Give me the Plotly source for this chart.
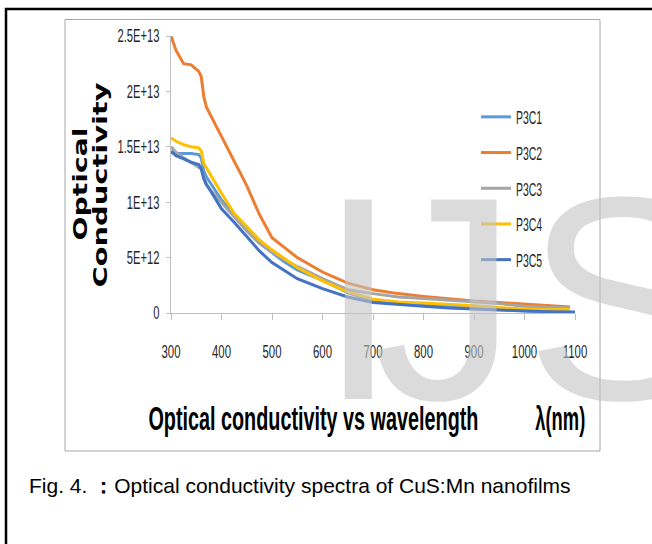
import plotly.graph_objects as go

# ---------------- data (values in units of 1e12 S^-1) ----------------
wavelength = [300, 310, 325, 340, 355, 360, 365, 370, 380, 400, 425, 450, 475, 500,
              525, 550, 600, 650, 700, 750, 800, 850, 900, 950, 1000, 1050, 1090, 1100]

p3c1 = [14.5, 14.4, 14.4, 14.4, 14.3, 14.0, 12.8, 12.3, 11.6, 10.2, 8.8, 7.5, 6.3, 5.45,
        4.6, 3.9, 2.95, 1.85, 1.1, 0.9, 0.75, 0.6, 0.45, 0.3, 0.2, 0.12, 0.08, 0.05]
p3c2 = [25.0, 23.7, 22.5, 22.4, 21.8, 21.3, 19.5, 18.6, 17.7, 15.9, 13.6, 11.5, 8.9, 6.8,
        5.9, 5.0, 3.7, 2.7, 2.1, 1.75, 1.5, 1.3, 1.08, 0.95, 0.8, 0.65, 0.55, None]
p3c3 = [15.0, 14.5, 14.0, 13.6, 13.2, 13.0, 12.3, 11.6, 11.0, 10.0, 8.7, 7.4, 6.3, 5.5,
        4.8, 4.2, 3.1, 2.1, 1.75, 1.45, 1.3, 1.15, 1.0, 0.85, 0.6, 0.5, 0.45, None]
p3c4 = [15.8, 15.5, 15.2, 15.0, 14.9, 14.6, 13.5, 13.1, 12.4, 10.8, 9.0, 7.8, 6.6, 5.7,
        4.9, 4.1, 2.9, 1.9, 1.25, 1.0, 0.9, 0.8, 0.65, 0.5, 0.35, 0.3, 0.35, None]
p3c5 = [14.6, 14.2, 13.9, 13.6, 13.4, 13.0, 12.1, 11.6, 10.9, 9.4, 8.2, 6.9, 5.6, 4.55,
        3.8, 3.1, 2.2, 1.45, 0.95, 0.75, 0.6, 0.45, 0.35, 0.25, 0.18, 0.12, 0.1, 0.08]

series_names = ["P3C1", "P3C2", "P3C3", "P3C4", "P3C5"]
series_vals = [p3c1, p3c2, p3c3, p3c4, p3c5]
series_colors = ["#5B9BD5", "#ED7D31", "#A5A5A5", "#FFC000", "#4472C4"]

x_ticks = [300, 400, 500, 600, 700, 800, 900, 1000, 1100]
y_tickvals = [0, 5e12, 1e13, 1.5e13, 2e13, 2.5e13]
y_ticktext = ["0", "5E+12", "1E+13", "1.5E+13", "2E+13", "2.5E+13"]

# ---------------- layout geometry ----------------
W, H = 652, 544
L, R, T, B = 171, 77, 36, 231
PW, PH = W - L - R, H - T - B


def px(x):
    return (x - L) / PW


def py(y):
    return (H - B - y) / PH


SANS = "Liberation Sans, Arial, sans-serif"
WM = dict(family=SANS, size=290, color="rgba(195,195,195,0.6)")

fig = go.Figure()
for name, vals, col in zip(series_names, series_vals, series_colors):
    fig.add_trace(go.Scatter(
        x=wavelength,
        y=[None if v is None else v * 1e12 for v in vals],
        mode="lines", name=name, legendgroup=name,
        line=dict(color=col, width=3),
        connectgaps=False,
    ))

annotations = [
    # watermark letters (0,1,2)
    dict(text="I", x=px(316), y=py(462), xanchor="left", yanchor="bottom", font=WM),
    dict(text="J", x=px(371), y=py(462), xanchor="left", yanchor="bottom", font=WM),
    dict(text="S", x=px(523), y=py(462), xanchor="left", yanchor="bottom", font=WM),
    # y title (3,4)
    dict(text="Optical", x=px(80), y=py(184), xanchor="center", yanchor="middle", textangle=-90,
         font=dict(family="DejaVu Sans, Verdana", size=20, color="#000000", weight="bold")),
    dict(text="Conductivity", x=px(100), y=py(185), xanchor="center", yanchor="middle", textangle=-90,
         font=dict(family="DejaVu Sans, Verdana", size=20, color="#000000", weight="bold")),
    # bottom title (5,6)
    dict(text="Optical conductivity vs wavelength", x=px(313), y=py(418), xanchor="center",
         yanchor="middle", font=dict(family=SANS, size=34, color="#000000", weight="bold")),
    dict(text="λ(nm)", x=px(560), y=py(418), xanchor="center", yanchor="middle",
         font=dict(family=SANS, size=34, color="#000000", weight="bold")),
    # caption (7)
    dict(text="Fig. 4. <b>：</b>Optical conductivity spectra of CuS:Mn nanofilms",
         x=px(27), y=py(485), xanchor="left", yanchor="middle",
         font=dict(family=SANS, size=21, color="#000000")),
]
for a in annotations:
    a.update(xref="paper", yref="paper", showarrow=False)

shapes = [
    dict(type="rect", xref="paper", yref="paper", x0=px(6), x1=px(700), y0=py(9), y1=py(600),
         line=dict(color="#000000", width=2.5), layer="below"),
    dict(type="rect", xref="paper", yref="paper", x0=px(65), x1=px(600), y0=py(19.5), y1=py(451),
         line=dict(color="#a6a6a6", width=1), layer="below"),
]

fig.update_layout(
    width=W, height=H,
    margin=dict(l=L, r=R, t=T, b=B, pad=0),
    paper_bgcolor="white", plot_bgcolor="white",
    showlegend=True,
    legend=dict(x=px(476), y=py(98), xanchor="left", yanchor="top",
                font=dict(family=SANS, size=19, color="#262626"),
                tracegroupgap=8, bgcolor="rgba(0,0,0,0)"),
    annotations=annotations,
    shapes=shapes,
    xaxis=dict(range=[300, 1100], tickvals=x_ticks, ticktext=[str(v) for v in x_ticks],
               showgrid=False, zeroline=False, showline=True, linecolor="#bfbfbf", linewidth=1,
               ticks="outside", ticklen=6, tickcolor="#bfbfbf", ticklabelstandoff=15,
               tickfont=dict(family=SANS, size=19, color="#262626")),
    yaxis=dict(range=[0, 2.5e13], tickvals=y_tickvals, ticktext=y_ticktext,
               showgrid=False, zeroline=False, showline=True, linecolor="#bfbfbf", linewidth=1,
               ticks="outside", ticklen=4, tickcolor="#bfbfbf", ticklabelstandoff=3,
               tickfont=dict(family=SANS, size=18, color="#262626")),
)

# narrow (Calibri-like) look: compress glyphs horizontally after rendering
post_js = """
var gd = document.getElementById('{plot_id}');
function fit(el, w) {
  if (!el) return;
  el.setAttribute('textLength', w);
  el.setAttribute('lengthAdjust', 'spacingAndGlyphs');
}
function squeeze(sel, f) {
  gd.querySelectorAll(sel).forEach(function (t) {
    try { fit(t, t.getComputedTextLength() * f); } catch (e) {}
  });
}
squeeze('g.xtick text', 0.6);
squeeze('g.ytick text', 0.62);
squeeze('text.legendtext', 0.55);
var widths = {3: 113, 4: 205, 5: 330, 6: 50};
Object.keys(widths).forEach(function (k) {
  fit(gd.querySelector('g.annotation[data-index="' + k + '"] text.annotation-text'), widths[k]);
});
"""

fig.write_html("out.html", post_script=post_js)
